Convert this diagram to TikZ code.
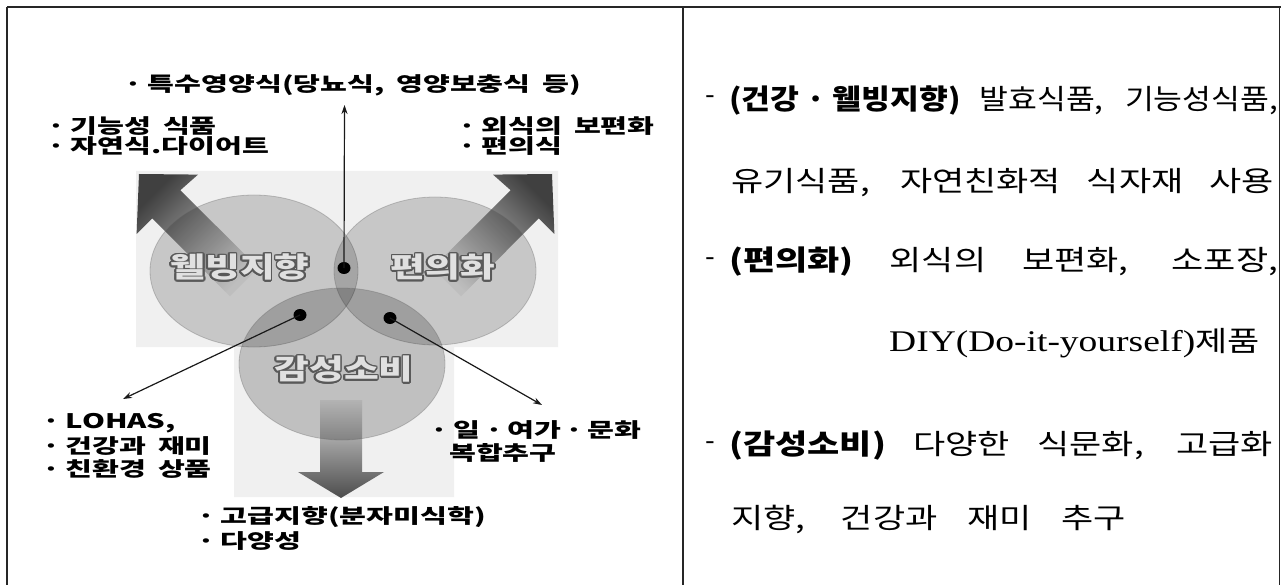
\documentclass[tikz,border=0pt]{standalone}
\usepackage{fontspec}
\newfontfamily\kr{Noto Sans CJK KR}
\newfontfamily\lser{Liberation Serif}
\usepackage{graphicx}
\usepackage{contour}
\contourlength{1.3pt}
\usetikzlibrary{arrows.meta,shapes.geometric}
\newcommand{\wtxt}[1]{\scalebox{1.46}[1]{#1}}
\newcommand{\ctxt}[1]{\scalebox{1.35}[1]{\contour{black!65}{#1}}}
\newcommand{\rtxt}[2][1.25]{\scalebox{#1}[1]{#2}}
\newcommand{\bl}{·\hspace{4pt}}
\newcommand{\mdt}{\hspace{3pt}·\hspace{3pt}}
\newcommand{\lblfont}{\kr\bfseries\fontsize{20}{20}\selectfont\spaceskip 8pt\relax}
\tikzset{
  frameline/.style={line width=2.2pt, draw=black!85},
  lbl/.style={anchor=west, inner sep=0pt, font=\lblfont, text=black},
  big/.style={inner sep=0pt, font=\kr\bfseries\fontsize{28}{28}\selectfont, text=black!12},
  rtx/.style={anchor=west, inner sep=0pt, font=\kr\fontsize{28}{28}\selectfont, text=black},
  circ/.style={ellipse, inner sep=0pt, fill=black, fill opacity=0.17, draw=black!60, draw opacity=0.35, line width=0.8pt},
  dotn/.style={ellipse, inner sep=0pt, minimum width=13pt, minimum height=12pt, fill=black},
  conn/.style={line width=1.2pt, draw=black!90, -{Stealth[length=9pt,width=6pt]}},
}
\begin{document}
\begin{tikzpicture}[x=1pt,y=-1pt]
\useasboundingbox (0,0) rectangle (1281,585);
\fill[white] (0,0) rectangle (1281,585);

% faint picture background
\fill[black!6] (136,171) -- (558,171) -- (558,347) -- (454,347) -- (454,497) -- (234,497) -- (234,347) -- (136,347) -- cycle;

% big shaded arrows
\shade[top color=black!75, bottom color=black!10, shading angle=45]
  (229.9,296.2) -- (152.2,218.4) -- (136.6,234.0) -- (139,174) -- (198.0,174.6) -- (180.4,190.2) -- (258.2,267.9) -- cycle;
\shade[top color=black!75, bottom color=black!10, shading angle=-45]
  (461.1,296.2) -- (538.8,218.4) -- (554.4,234.0) -- (552,174) -- (493.0,174.6) -- (510.6,190.2) -- (432.8,267.9) -- cycle;
\shade[top color=black!12, bottom color=black!70, shading angle=0]
  (320,400) -- (362,400) -- (362,472) -- (384,472) -- (341,498) -- (298,472) -- (320,472) -- cycle;

% circles
\node[circ, minimum width=208pt, minimum height=152pt] (cL) at (254,271) {};
\node[circ, minimum width=202pt, minimum height=148pt] (cR) at (435,271) {};
\node[circ, minimum width=206pt, minimum height=152pt, fill opacity=0.2] (cB) at (342,364) {};

% circle labels
\node[big] (tL) at (240,268) {\ctxt{웰빙지향}};
\node[big] (tR) at (443,268) {\ctxt{편의화}};
\node[big] (tB) at (344,370) {\ctxt{감성소비}};

% dots
\node[dotn] (d1) at (344,268) {};
\node[dotn] (d2) at (300,315) {};
\node[dotn] (d3) at (390,318) {};

\coordinate (eT) at (344.5,105);
\coordinate (eL) at (123,399);
\coordinate (eR) at (542,405);
\draw[conn] (d1.center) -- (eT);
\draw[conn] (d2.center) -- (eL);
\draw[conn] (d3.center) -- (eR);

% left panel labels
\node[lbl] (ti) at (124,85) {\wtxt{\bl 특수영양식(당뇨식, 영양보충식 등)}};
\node[lbl] (f1) at (47,126) {\wtxt{\bl 기능성 식품}};
\node[lbl] (f2) at (47,146) {\wtxt{\bl 자연식.다이어트}};
\node[lbl] (c1) at (458,126) {\wtxt{\bl 외식의 보편화}};
\node[lbl] (c2) at (458,146) {\wtxt{\bl 편의식}};
\node[lbl] (l1) at (42,423) {\wtxt{\bl LOHAS,}};
\node[lbl] (l2) at (42,446) {\wtxt{\bl 건강과 재미}};
\node[lbl] (l3) at (42,469) {\wtxt{\bl 친환경 상품}};
\node[lbl] (w1) at (430,430) {\wtxt{\bl 일\mdt 여가\mdt 문화}};
\node[lbl] (w2) at (449,453) {\wtxt{복합추구}};
\node[lbl] (h1) at (197,517) {\wtxt{\bl 고급지향(분자미식학)}};
\node[lbl] (h2) at (197,541) {\wtxt{\bl 다양성}};

% right panel text
\node[rtx] (m1) at (705,100) {-};
\node[rtx] (m3) at (705,262) {-};
\node[rtx] (m5) at (705,446) {-};
\node[rtx] (r1) at (729,100) {\rtxt[1.12]{\makebox[490pt][s]{\mbox{\bfseries (건강 · 웰빙지향)} 발효식품, 기능성식품,}}};
\node[rtx] (r2) at (731,183) {\rtxt{\makebox[434pt][s]{유기식품, 자연친화적 식자재 사용}}};
\node[rtx] (r3) at (729,262) {\rtxt{\makebox[439pt][s]{\mbox{\bfseries (편의화)} 외식의 보편화, 소포장,}}};
\node[rtx] (r4) at (889,343) {\rtxt{{\lser\fontsize{30}{30}\selectfont DIY(Do-it-yourself)}제품}};
\node[rtx] (r5) at (729,446) {\rtxt{\makebox[435pt][s]{\mbox{\bfseries (감성소비)} 다양한 식문화, 고급화}}};
\node[rtx] (r6) at (731,519) {\rtxt{\makebox[316pt][s]{지향, 건강과 재미 추구}}};

% table frame
\coordinate (fTL) at (7,7);
\coordinate (fTR) at (1281,7);
\coordinate (fBL) at (7,585);
\coordinate (fMT) at (683,7);
\coordinate (fMB) at (683,585);
\coordinate (fRT) at (1279.5,7);
\coordinate (fRB) at (1279.5,585);
\draw[frameline] (fTL) -- (fTR);
\draw[frameline] (fTL) -- (fBL);
\draw[frameline] (fMT) -- (fMB);
\draw[frameline, line width=1.5pt] (fRT) -- (fRB);
\end{tikzpicture}
\end{document}
